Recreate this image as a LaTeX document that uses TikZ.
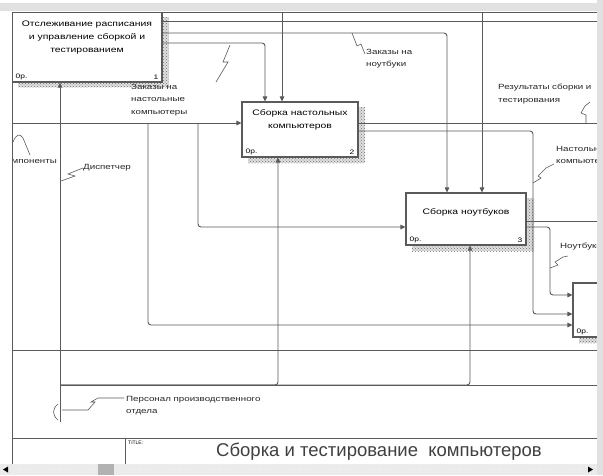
\documentclass[tikz,border=0pt]{standalone}
\usepackage{fontspec}
\setmainfont{Liberation Sans}
\newfontfamily\idfont[FakeStretch=1.3]{Liberation Sans}
\usetikzlibrary{arrows.meta,calc,patterns}
\definecolor{idline}{RGB}{90,90,90}
\definecolor{idshade}{RGB}{110,110,110}
\definecolor{idbar}{RGB}{225,225,225}

\begin{document}
\begin{tikzpicture}[x=1pt,y=-1pt,
    >={Triangle[length=5pt,width=4.5pt]},
    wire/.style={draw=idline, line width=0.9pt, rounded corners=3pt},
    arr/.style={wire, ->},
    fbox/.style={draw=idline, line width=1.1pt, fill=white, inner sep=0pt},
    btext/.style={font=\idfont\fontsize{8}{13}\selectfont, align=center, inner sep=0pt},
    tag/.style={font=\idfont\fontsize{7.5}{12.5}\selectfont, align=left, inner sep=0pt, text=black!85},
    cost/.style={font=\idfont\fontsize{6.5}{7}\selectfont, inner sep=0pt},
    squig/.style={draw=idline, line width=0.6pt},
    shade/.style={pattern=crosshatch dots, pattern color=idshade},
  ]
  \useasboundingbox (0,0) rectangle (603,475);
  \fill[white] (0,0) rectangle (603,475);

  % top strip
  \fill[idbar] (0,3) rectangle (603,11);

  \begin{scope}
    \clip (12.5,12.5) rectangle (597,463.5);

    % shadows
    \fill[black!12] (18,17) rectangle (169,87);
    \fill[shade] (18,17) rectangle (169,87);
    \fill[black!12] (248,107) rectangle (365,163);
    \fill[shade] (248,107) rectangle (365,163);
    \fill[black!12] (412,198) rectangle (534,251);
    \fill[shade] (412,198) rectangle (534,251);
    \fill[black!12] (579,288) rectangle (640,343);
    \fill[shade] (579,288) rectangle (640,343);

    % boxes
    \node[fbox, minimum width=150, minimum height=70] (b1) at (87,47) {};
    \node[fbox, minimum width=116, minimum height=55] (b2) at (300,129.5) {};
    \node[fbox, minimum width=120, minimum height=52] (b3) at (466,219) {};
    \node[fbox, minimum width=60, minimum height=54] (b4) at (603,310) {};

    \node[btext] (b1t) at (87,38) {Отслеживание расписания\\и управление сборкой и\\тестированием};
    \node[btext] (b2t) at (300,120) {Сборка настольных\\компьютеров};
    \node[btext] (b3t) at (466,212) {Сборка ноутбуков};

    \node[cost, anchor=south west] (b1c) at ($(b1.south west)+(4,-3)$) {0р.};
    \node[cost, anchor=south east] (b1n) at ($(b1.south east)+(-4,-3)$) {1};
    \node[cost, anchor=south west] (b2c) at ($(b2.south west)+(4,-3)$) {0р.};
    \node[cost, anchor=south east] (b2n) at ($(b2.south east)+(-4,-3)$) {2};
    \node[cost, anchor=south west] (b3c) at ($(b3.south west)+(4,-3)$) {0р.};
    \node[cost, anchor=south east] (b3n) at ($(b3.south east)+(-4,-3)$) {3};
    \node[cost, anchor=south west] (b4c) at ($(b4.south west)+(4,-3)$) {0р.};

    % frame points
    \coordinate (topA) at (282,12);
    \coordinate (topB) at (482,12);
    \coordinate (inL) at (12,123);
    \coordinate (br1) at (148,123);
    \coordinate (br2) at (198,123);
    \coordinate (k1) at (533,314);
    \coordinate (k2) at (550,295);
    \coordinate (mech) at (60,422);
    \coordinate (m0) at (60,385);
    \coordinate (exA) at (600,21);
    \coordinate (exB) at (600,123);
    \coordinate (exC) at (600,221);
    \coordinate (exD) at (600,385);
    \coordinate (hl1) at (12,350);
    \coordinate (hl2) at (600,350);

    % controls
    \draw[wire] (b1.east |- exA) -- (exA);
    \draw[arr] (b1.east |- 0,33) -| (b3.north -| 447,0);
    \draw[arr] (b1.east |- 0,43) -| (b2.north -| 265,0);
    \draw[arr] (topA) -- (b2.north -| topA);
    \draw[arr] (topB) -- (b3.north -| topB);

    % inputs
    \draw[arr] (inL) -- (b2.west |- inL);
    \draw[arr] (br1) |- (b4.west |- 0,325);
    \draw[arr] (br2) |- (b3.west |- 0,227);

    % outputs
    \draw[wire] (b2.east |- exB) -- (exB);
    \draw[arr] (b2.east |- 0,131) -| (k1) -- (b4.west |- k1);
    \draw[wire] (b3.east |- exC) -- (exC);
    \draw[arr] (b3.east |- 0,227) -| (k2) -- (b4.west |- k2);

    % mechanisms
    \draw[arr] (mech) -- (b1.south -| mech);
    \draw[arr] (m0) -| (b2.south -| 278,0);
    \draw[arr] (m0) -| (b3.south -| 470,0);
    \draw[wire] (m0) -- (exD);
    \draw[wire] (hl1) -- (hl2);
    \draw[squig] (58,404) .. controls (52,409) and (52,415) .. (58,420);

    % labels
    \node[tag, anchor=north west] (lnd) at (131,84) {Заказы на\\настольные\\компьютеры};
    \node[tag, anchor=north west] (lnb) at (366,49) {Заказы на\\ноутбуки};
    \draw[squig] (352,33) -- (357,46) -- (361,44) -- (365,54);
    \draw[squig] (230,45) -- (223,62) -- (228,62) -- (216,82);

    \node[tag, anchor=north west] (lres) at (498,84) {Результаты сборки и\\тестирования};
    \draw[squig] (586,123) -- (586,115) -- (581,113) -- (585,106) -- (590,102);

    \node[tag, anchor=north west] (lds) at (556,146) {Настольные\\компьютеры};
    \draw[squig] (533,183) -- (541,178) -- (538,176) -- (546,168) -- (554,164);

    \node[tag, anchor=north west] (lnt) at (560,243) {Ноутбуки};
    \draw[squig] (550,268) -- (558,265) -- (555,262) -- (563,257) -- (568,256);

    \node[tag, anchor=west] (ldp) at (83,168) {Диспетчер};
    \draw[squig] (61,181) -- (75,176) -- (68,174) -- (78,170) -- (ldp.west);

    \node[tag, anchor=east] (lkm) at (57,162) {компоненты};
    \draw[squig] (13,142) .. controls (16,134) and (20,133) .. (23,138) -- (30,155);

    \node[tag, anchor=north west] (lps) at (126,396) {Персонал производственного\\отдела};
    \draw[squig] (62,410) -- (88,410) -- (95,402) -- (91,402) -- (98,398) -- (124,398);
  \end{scope}

  % frame
  \draw[idline, line width=1pt] (12,464) -- (12,12) -- (597,12);

  % title block
  \coordinate (tb1) at (12,438);
  \coordinate (tb2) at (597,438);
  \coordinate (tb3) at (125,438);
  \coordinate (tb4) at (125,464);
  \draw[idline, line width=0.9pt] (tb1) -- (tb2);
  \draw[idline, line width=0.9pt] (tb3) -- (tb4);
  \node[font=\fontsize{5}{6}\selectfont, anchor=north west, inner sep=0pt] (ttl) at (128,441) {TITLE:};
  \node[font=\fontsize{18.5}{19}\selectfont, text=black!75, inner sep=0pt] (title) at (379,452) {Сборка и тестирование\ \ компьютеров};

  % scroll bars
  \fill[idbar] (597,0) rectangle (603,475);
  \fill[black!8] (0,464) rectangle (597,475);
  \foreach \i in {20,30,...,580} \fill[white] (\i,469.5) circle (0.6);
  \fill[black!30] (98,464) rectangle (114,475);
  \fill[black] (3,469.5) -- (8,466.5) -- (8,472.5) -- cycle;
  \fill[black] (593,469.5) -- (588,466.5) -- (588,472.5) -- cycle;
\end{tikzpicture}
\end{document}
